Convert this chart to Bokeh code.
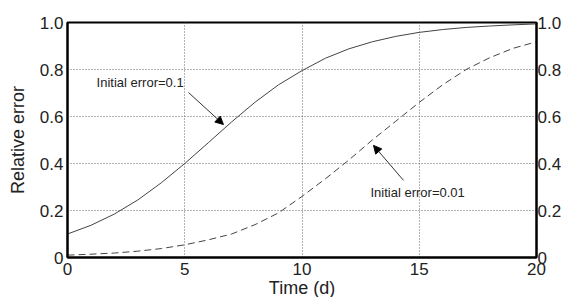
from bokeh.plotting import figure
from bokeh.models import LinearAxis, FixedTicker, Range1d, Label, Arrow, NormalHead
from bokeh.embed import file_html
from bokeh.resources import INLINE

days = list(range(0, 21))
err_01 = [0.10, 0.137, 0.185, 0.245, 0.318, 0.40, 0.488, 0.577, 0.661, 0.735, 0.795,
          0.848, 0.888, 0.918, 0.941, 0.958, 0.97, 0.979, 0.985, 0.99, 0.994]
err_001 = [0.01, 0.014, 0.019, 0.027, 0.038, 0.054, 0.075, 0.10, 0.14, 0.19, 0.26,
           0.335, 0.415, 0.50, 0.58, 0.66, 0.735, 0.80, 0.85, 0.89, 0.918]
x_ticks = [0, 5, 10, 15, 20]
y_ticks = [0, 0.2, 0.4, 0.6, 0.8, 1.0]
label_1 = "Initial error=0.1"
label_2 = "Initial error=0.01"

FONT = "Liberation Sans"

p = figure(frame_width=469, frame_height=235, output_backend="svg", toolbar_location=None,
           x_range=Range1d(0, 20), y_range=Range1d(0, 1),
           min_border_left=67, min_border_right=0, min_border_top=22, min_border_bottom=0)
p.background_fill_color = "white"
p.border_fill_color = "white"
p.outline_line_color = "black"
p.outline_line_width = 2

try:
    from bokeh.models import GlobalInlineStyleSheet
    p.stylesheets = [GlobalInlineStyleSheet(css="html, body { overflow: hidden; }")]
except Exception:
    pass

p.line(days, err_01, line_color="#444444", line_width=1)
p.line(days, err_001, line_color="#444444", line_width=1, line_dash="7 4")

overrides = {0: "0", 1: "1.0", "1": "1.0"}
p.xaxis.ticker = FixedTicker(ticks=x_ticks)
p.yaxis.ticker = FixedTicker(ticks=y_ticks)
p.yaxis.major_label_overrides = overrides

right = LinearAxis(ticker=FixedTicker(ticks=y_ticks))
right.major_label_overrides = overrides
p.add_layout(right, "right")

left = p.yaxis[0]
bottom = p.xaxis[0]
for ax in [bottom, left, right]:
    ax.major_tick_out = 0
    ax.major_tick_in = 0
    ax.minor_tick_out = 0
    ax.minor_tick_in = 0
    ax.axis_line_color = "black"
    ax.axis_line_width = 2
    ax.major_label_text_font = FONT
    ax.major_label_text_font_size = "17px"
    ax.major_label_text_color = "#222222"
bottom.major_label_standoff = 5
left.major_label_standoff = 4
right.major_label_standoff = 1

bottom.axis_label = "Time (d)"
left.axis_label = "Relative error"
for ax in [bottom, left]:
    ax.axis_label_text_font = FONT
    ax.axis_label_text_font_size = "18px"
    ax.axis_label_text_font_style = "normal"
    ax.axis_label_text_color = "#222222"
bottom.axis_label_standoff = 0
left.axis_label_standoff = 9

p.xgrid.ticker = FixedTicker(ticks=x_ticks)
p.ygrid.ticker = FixedTicker(ticks=y_ticks)
p.grid.grid_line_color = "#666666"
p.grid.grid_line_dash = "1 2"
p.grid.grid_line_width = 1

p.add_layout(Label(x=1.24, y=0.745, text=label_1, text_font=FONT, text_font_size="13px",
                   text_baseline="middle", text_align="left", text_color="#222222"))
p.add_layout(Label(x=12.92, y=0.277, text=label_2, text_font=FONT, text_font_size="13px",
                   text_baseline="middle", text_align="left", text_color="#222222"))
p.add_layout(Arrow(x_start=5.16, y_start=0.702, x_end=6.65, y_end=0.566,
                   line_color="#333333", line_width=1,
                   end=NormalHead(size=8, fill_color="black", line_color="black")))
p.add_layout(Arrow(x_start=14.33, y_start=0.328, x_end=13.05, y_end=0.477,
                   line_color="#333333", line_width=1,
                   end=NormalHead(size=8, fill_color="black", line_color="black")))

open("out.html", "w").write(file_html(p, INLINE))
